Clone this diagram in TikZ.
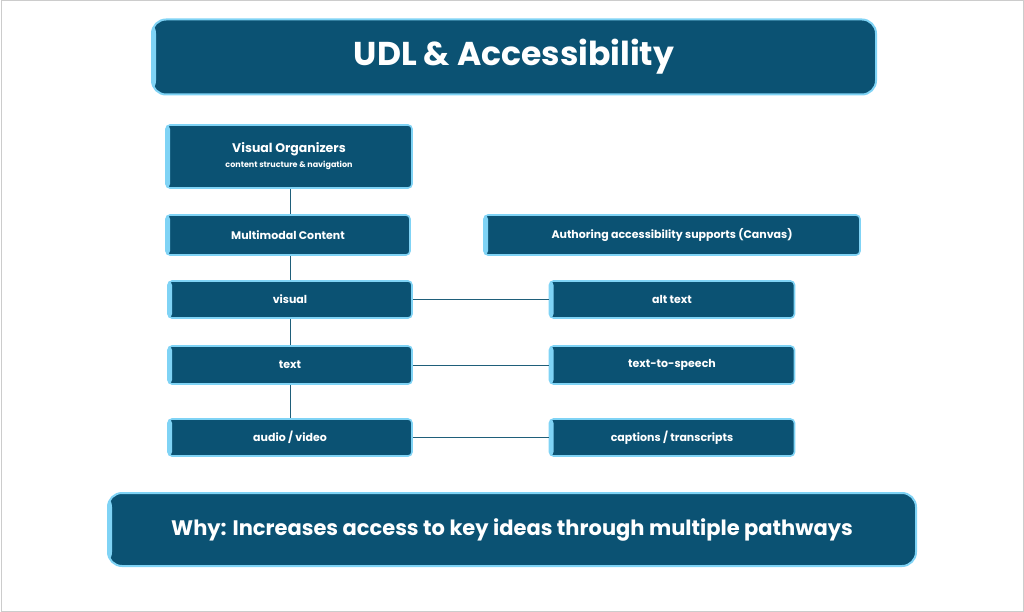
\documentclass[tikz,border=0pt]{standalone}
\usepackage{fontspec}
\setmainfont{Poppins}
\usetikzlibrary{positioning}
\definecolor{boxblue}{HTML}{0B5273}
\definecolor{glowblue}{HTML}{7FD3F5}
\definecolor{linkblue}{HTML}{1F5F7A}

\tikzset{
  box/.style={fill=boxblue, draw=glowblue, line width=1.6pt, rounded corners=4pt,
    text=white, font=\bfseries\fontsize{11}{13}\selectfont, align=center,
    path picture={\fill[glowblue] (path picture bounding box.south west) rectangle ([xshift=4pt]path picture bounding box.north west);}},
  big/.style={box, rounded corners=14pt, line width=2pt},
  link/.style={draw=linkblue, line width=1pt}
}

\begin{document}
\begin{tikzpicture}[x=1pt, y=-1pt]
  \useasboundingbox (0,0) rectangle (1024,612);
  \draw[gray!40, line width=1pt] (1,1) rectangle (1023,611);

  \node[big, minimum width=724pt, minimum height=75pt, font=\bfseries\fontsize{33}{38}\selectfont] (title) at (514,57) {UDL \& Accessibility};

  \node[box, minimum width=246pt, minimum height=63pt] (org) at (289,156.5)
    {\fontsize{12.5}{15}\selectfont Visual Organizers\\[2pt]{\fontsize{8}{10}\selectfont content structure \& navigation}};
  \node[box, minimum width=244pt, minimum height=40pt] (multi) at (288,235) {Multimodal Content};
  \node[box, minimum width=376pt, minimum height=40pt] (author) at (672,235) {Authoring accessibility supports (Canvas)};

  \node[box, minimum width=244pt, minimum height=37pt] (visual) at (290,299.5) {visual};
  \node[box, minimum width=245pt, minimum height=37pt] (alt) at (672,299.5) {alt text};
  \node[box, minimum width=244pt, minimum height=38pt] (text) at (290,365) {text};
  \node[box, minimum width=245pt, minimum height=38pt] (tts) at (672,365) {text-to-speech};
  \node[box, minimum width=244pt, minimum height=37pt] (av) at (290,437.5) {audio / video};
  \node[box, minimum width=245pt, minimum height=37pt] (cap) at (672,437.5) {captions / transcripts};

  \node[big, minimum width=808pt, minimum height=73pt, font=\bfseries\fontsize{21}{25}\selectfont] (why) at (512,529.5)
    {Why: Increases access to key ideas through multiple pathways};

  \path[link] (org.south -| visual) -- (multi.north -| visual)
    (multi.south -| visual) -- (visual.north)
    (visual.south) -- (text.north)
    (text.south) -- (av.north);
  \path[link] (visual.east) -- (alt.west) (text.east) -- (tts.west) (av.east) -- (cap.west);
\end{tikzpicture}
\end{document}
